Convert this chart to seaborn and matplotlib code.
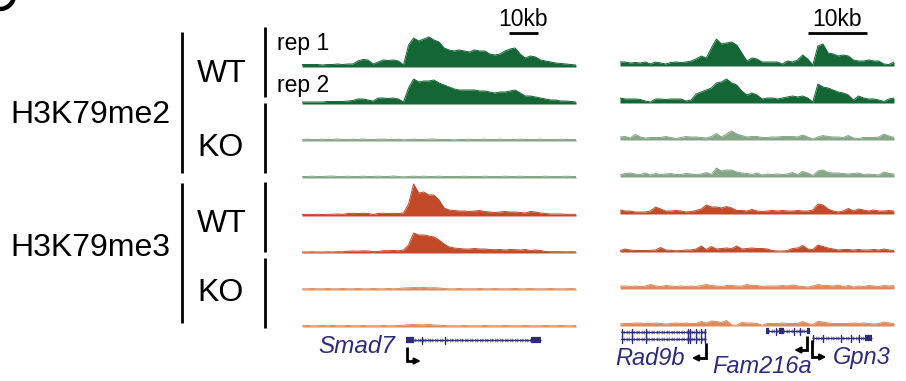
import numpy as np
import matplotlib
matplotlib.use("Agg")
import matplotlib.pyplot as plt
import seaborn as sns
from matplotlib.lines import Line2D
from matplotlib.patches import Arc

# ---------------- data ----------------
left_len_kb = 94.5
right_len_kb = 46.4

# H3K79me2 WT / KO, left locus (Smad7)
l_me2_wt1 = [2.5, 2.5, 2.5, 2.5, 2, 2.5, 2.5, 3, 2.5, 3,
             3, 6, 7.5, 7, 3, 5, 7, 6.5, 7, 6,
             2, 22, 29, 26, 28, 30, 27, 25, 19, 17,
             16, 17, 16, 15, 17, 16, 16, 13, 12, 13,
             16, 18, 19, 13, 9, 11, 10, 7, 6, 5,
             4, 3.5, 3, 2.5, 2]
l_me2_wt2 = [2, 2, 2, 2, 2, 2.5, 2.5, 2.5, 2.5, 3,
             3.5, 5, 5, 4, 3, 6, 6, 5.5, 6, 5,
             2, 16, 25, 22, 23, 23, 24, 21, 19, 17,
             15, 14, 14, 14, 14, 13, 13, 12, 11, 12,
             12, 13, 14, 11, 8, 8, 7, 6, 5, 4,
             4, 3, 3, 2.5, 2]
l_me2_ko1 = [1.5, 1.8, 1.5, 1.5, 1.8, 1.5, 1.5, 2.0, 1.5, 1.5,
             1.8, 1.5, 2.0, 1.5, 1.5, 1.8, 2.0, 1.5, 1.5, 1.8,
             1.2, 1.5, 1.8, 1.5, 1.5, 1.8, 2.0, 1.5, 1.5, 1.5,
             1.2, 1.5, 1.5, 1.8, 1.5, 1.5, 1.8, 1.5, 1.5, 1.8,
             1.5, 1.5, 1.5, 1.8, 1.5, 1.5, 1.5, 1.8, 1.5, 1.5,
             1.5, 1.8, 1.5, 1.5, 1.5]
l_me2_ko2 = [1.5, 1.5, 1.8, 1.5, 1.5, 1.8, 2.0, 1.5, 1.5, 1.8,
             1.5, 1.5, 1.8, 1.5, 1.5, 1.8, 1.5, 1.5, 2.0, 1.5,
             1.2, 1.5, 1.8, 1.5, 1.8, 1.5, 1.5, 1.8, 1.5, 1.5,
             1.5, 1.5, 1.8, 1.5, 1.5, 1.5, 1.8, 1.5, 1.5, 1.5,
             1.8, 1.5, 1.5, 1.8, 1.5, 1.5, 1.5, 1.5, 1.8, 1.5,
             1.5, 1.5, 1.8, 1.5, 1.5]
# H3K79me3 WT / KO, left locus
l_me3_wt1 = [1.5, 1.7, 1.5, 1.7, 1.5, 1.7, 1.7, 2, 1.7, 2.5,
             2.7, 2.5, 2.7, 2.5, 1.5, 2.5, 2.7, 2.5, 2.7, 2.5,
             3, 12, 32, 23, 24, 21, 21, 16, 8, 6,
             5.5, 5, 5, 4.5, 5, 5.5, 4.5, 4, 3.5, 4,
             4.5, 4, 4, 3.5, 3, 4.5, 4, 3, 2.5, 2,
             2, 2, 1.7, 1.7, 1.7]
l_me3_wt2 = [1, 1, 1.2, 1, 1, 1.2, 1, 1.3, 1.2, 1.8,
             2, 1.8, 2.2, 2, 1.3, 1.5, 2.3, 2.3, 2.5, 2.2,
             3, 8, 20, 18, 18, 17, 16, 13, 9, 6,
             5, 4.5, 4, 4, 4.5, 4, 4, 3.5, 3.3, 3.5,
             3, 3.5, 3.3, 3, 3.5, 2.5, 3, 2.5, 1.5, 1.3,
             1.3, 1.3, 1.2, 1.3, 1.2]
l_me3_ko1 = [1.2, 1.2, 1.5, 1.2, 1.2, 1.5, 1.2, 1.2, 1.5, 1.2,
             1.2, 1.5, 1.2, 1.2, 1.5, 1.2, 1.2, 1.5, 1.2, 1.5,
             2.0, 2.2, 2.5, 2.3, 2.5, 2.2, 2.3, 2.0, 1.5, 1.2,
             1.2, 1.5, 1.2, 1.2, 1.2, 1.5, 1.2, 1.2, 1.5, 1.2,
             1.2, 1.2, 1.5, 1.2, 1.2, 1.5, 1.2, 1.2, 1.2, 1.5,
             1.2, 1.2, 1.2, 1.5, 1.2]
l_me3_ko2 = [1.2, 1.5, 1.2, 1.2, 1.5, 1.2, 1.5, 1.2, 1.2, 1.5,
             1.2, 1.2, 1.5, 1.2, 1.2, 1.2, 1.5, 1.2, 1.2, 1.5,
             1.8, 2.3, 2.5, 2.3, 2.2, 2.5, 2.0, 1.8, 1.5, 1.2,
             1.2, 1.2, 1.5, 1.2, 1.2, 1.2, 1.5, 1.2, 1.2, 1.2,
             1.5, 1.2, 1.2, 1.2, 1.5, 1.2, 1.2, 1.2, 1.5, 1.2,
             1.2, 1.5, 1.2, 1.2, 1.5]

# right locus (Rad9b / Fam216a / Gpn3)
r_me2_wt1 = [4, 4, 3, 3.5, 3, 4, 2, 4, 3, 2,
             3.5, 4, 3.5, 4, 5, 7, 10, 8, 18, 27,
             22, 23, 24, 21, 13, 5, 8, 7, 4, 4,
             4, 4, 2, 5, 4, 6, 11, 7, 1, 20,
             22, 13, 12, 10, 11, 10, 6, 5, 5, 6,
             5, 5, 2, 1.5, 4]
r_me2_wt2 = [5, 4, 4, 4, 3.5, 2, 1, 4, 4, 3.5,
             4, 4, 4, 2, 3, 9, 11, 13, 15, 20,
             21, 24, 20, 18, 12, 8, 10, 8, 4, 5,
             5, 4, 5, 6, 7, 6, 7, 5, 1, 19,
             16, 15, 13, 11, 10, 8, 3, 7, 5, 4,
             4, 3, 1.5, 4, 5]
r_me2_ko1 = [3, 3.5, 2, 5.5, 3, 2, 2.5, 2.5, 2.5, 3.5,
             2.5, 1.5, 2.5, 3.5, 3, 3, 2.5, 2, 3.5, 6.5,
             3, 6, 9, 6, 4.5, 3, 3.5, 3.5, 2.5, 2.5,
             3, 3, 3.5, 3.5, 3.5, 3, 5, 3, 1, 3,
             4.5, 3.5, 3, 3, 2.5, 4.5, 2, 1.5, 2.5, 2.5,
             2.5, 3, 6, 4, 2.5]
r_me2_ko2 = [2, 3.5, 4, 3, 2.5, 4, 2, 3.5, 2.5, 3,
             3.5, 2.5, 2.5, 3.5, 3, 2.5, 3, 4.5, 2.5, 9,
             6, 7, 7, 5, 4, 3.5, 2.5, 4, 2, 3,
             2.5, 3, 2.5, 3, 4.5, 2.5, 5.5, 4, 1.5, 6,
             7, 4.5, 4, 4, 3.5, 3, 3.5, 4, 2.5, 3,
             2.5, 2, 5, 3.5, 3]
r_me3_wt1 = [4, 3, 3, 2, 2, 2, 3, 7, 5, 3,
             3, 3.5, 3, 2, 2.5, 3.5, 5, 9, 7, 7,
             6, 7.5, 6, 3.5, 3.5, 3, 4.5, 3, 2.5, 3,
             3.5, 3, 3.5, 3, 3, 3.5, 3, 3, 4, 10,
             9, 5, 3, 2, 3, 5.5, 3, 5, 4, 3,
             4, 3, 3, 3.5, 3]
r_me3_wt2 = [1.5, 3, 2, 1.5, 1.5, 1.5, 1.7, 2, 4.5, 2,
             1.7, 1.2, 1.5, 2, 2, 3, 6, 2.5, 5.5, 3,
             3.5, 4, 3.5, 6, 3, 3.5, 4, 3.5, 3.5, 3,
             1.5, 1, 1, 1.5, 3.5, 4, 6.5, 3, 2.5, 7,
             5.5, 4, 3, 2, 2.5, 2.5, 2, 2.5, 2, 2,
             2.5, 2, 3, 2, 1.5]
r_me3_ko1 = [3, 3, 2.5, 3, 2.5, 3, 4.5, 3, 2.5, 3.5,
             3, 2.5, 3, 2.5, 3, 2.5, 3.5, 4.5, 3.5, 3,
             2.5, 3.5, 3.5, 3, 3, 4.5, 3.5, 3.5, 2.5, 3,
             3, 3, 3.5, 3, 4, 3, 2.5, 2, 3, 4.5,
             3.5, 3.5, 3, 4, 2.5, 3.5, 2, 3, 2.5, 3.5,
             3, 2.5, 3.5, 3, 3.5]
r_me3_ko2 = [2, 2.5, 2.5, 3, 3, 2.5, 2.5, 3, 2.5, 2,
             2.5, 3, 2.5, 3, 2.5, 2.5, 4.5, 3, 5, 4.5,
             3.5, 5.5, 1, 0.8, 3.5, 3, 3, 2.5, 0.8, 2.5,
             2.5, 2.5, 3, 2.5, 2.5, 2.5, 4.5, 2.5, 1.5, 4.5,
             4, 3, 2.5, 2.5, 2.5, 2.5, 3, 2.5, 3, 2.5,
             2, 2.5, 4, 3, 2.5]

# genes: exon intervals in kb
smad7_exons = [(35.9, 38.6), (41.3, 41.6), (49.2, 49.5), (79.0, 82.4)]
rad9b_exons = [(0.17, 0.5), (2.0, 2.2), (4.3, 4.5), (11.3, 11.6), (11.8, 12.0),
               (12.8, 13.0), (13.6, 13.8), (14.3, 14.56)]
fam216a_exons = [(24.7, 25.2), (26.4, 26.6), (27.0, 27.8), (29.3, 29.5),
                 (30.3, 30.5), (31.6, 32.2)]
gpn3_exons = [(32.5, 32.8), (34.2, 34.4), (37.3, 37.5), (39.1, 39.3),
              (40.3, 40.5), (41.5, 42.7)]

track_labels = ["H3K79me2", "H3K79me3"]
geno_labels = ["WT", "KO", "WT", "KO"]
scale_kb = 10

# ---------------- style ----------------
sns.set_theme(style="white")
plt.rcParams["font.family"] = ["Liberation Sans", "DejaVu Sans"]
plt.rcParams["text.color"] = "black"

C_ME2_WT = "#146634"
C_ME2_KO = "#85a687"
C_ME3_WT = "#c24a28"
C_ME3_KO = "#df8a5a"
C_GENE = "#2c2c7c"

W, H = 906, 381
fig = plt.figure(figsize=(W / 100, H / 100), dpi=100)
fig.patch.set_facecolor("white")


def axes_px(x0, y0, x1, y1):
    ax = fig.add_axes([x0 / W, 1 - y1 / H, (x1 - x0) / W, (y1 - y0) / H])
    ax.set_facecolor("none")
    ax.axis("off")
    return ax


def ftext(x, y, s, **kw):
    fig.text(x / W, 1 - y / H, s, color="black", **kw)


def fline(x0, y0, x1, y1, lw=2.0):
    fig.add_artist(Line2D([x0 / W, x1 / W], [1 - y0 / H, 1 - y1 / H],
                          color="black", lw=lw, transform=fig.transFigure,
                          solid_capstyle="butt"))


TRACK_H = 36
left_x = (302, 576)
right_x = (620, 894)
left_base = [67, 104, 141, 178, 216, 253, 290, 327]
right_base = [66, 103, 140, 177, 214, 252, 289, 326]

left_tracks = [(l_me2_wt1, C_ME2_WT), (l_me2_wt2, C_ME2_WT),
               (l_me2_ko1, C_ME2_KO), (l_me2_ko2, C_ME2_KO),
               (l_me3_wt1, C_ME3_WT), (l_me3_wt2, C_ME3_WT),
               (l_me3_ko1, C_ME3_KO), (l_me3_ko2, C_ME3_KO)]
right_tracks = [(r_me2_wt1, C_ME2_WT), (r_me2_wt2, C_ME2_WT),
                (r_me2_ko1, C_ME2_KO), (r_me2_ko2, C_ME2_KO),
                (r_me3_wt1, C_ME3_WT), (r_me3_wt2, C_ME3_WT),
                (r_me3_ko1, C_ME3_KO), (r_me3_ko2, C_ME3_KO)]


def draw_panel(tracks, xr, bases, length):
    axes = []
    for (vals, col), b in zip(tracks, bases):
        ax = axes_px(xr[0], b - TRACK_H, xr[1], b + 0.5)
        pos = np.linspace(0, length, len(vals))
        ax.fill_between(pos, 0, vals, color=col, lw=0)
        sns.lineplot(x=pos, y=vals, ax=ax, color=col, lw=0.7)
        ax.set_xlim(0, length)
        ax.set_ylim(-0.5, TRACK_H)
        ax.axis("off")
        axes.append(ax)
    return axes


lax = draw_panel(left_tracks, left_x, left_base, left_len_kb)
rax = draw_panel(right_tracks, right_x, right_base, right_len_kb)

# scale bars
for ax, start, base in [(lax[0], 71.4, left_base[0]), (rax[0], 31.8, right_base[0])]:
    ax.plot([start, start + scale_kb], [base - 33, base - 33], color="black",
            lw=2, clip_on=False, solid_capstyle="butt")
    ax.text(start + scale_kb / 2, base - 26, f"{scale_kb}kb", ha="center",
            va="baseline", fontsize=16.5, color="black", clip_on=False)

# gene axes
gl = axes_px(left_x[0], 326, left_x[1], 381)
gl.set_xlim(0, left_len_kb)
gl.set_ylim(381, 326)
gr = axes_px(right_x[0], 326, right_x[1], 381)
gr.set_xlim(0, right_len_kb)
gr.set_ylim(381, 326)


def draw_gene(ax, exons, row, strand, length):
    s, e = exons[0][0], exons[-1][1]
    ax.plot([s, e], [row, row], color=C_GENE, lw=0.8, solid_capstyle="butt")
    step = length / 110
    chev = np.arange(s + step, e - step / 2, step)
    ax.plot(chev, [row] * len(chev), ls="none",
            marker="4" if strand > 0 else "3", ms=3, mew=0.6, color=C_GENE)
    for (a, b) in exons:
        thick = (b - a) > 0.4
        if thick:
            ax.plot([a, b], [row, row], color=C_GENE, lw=4.5,
                    solid_capstyle="butt")
        else:
            ax.plot([(a + b) / 2] * 2, [row - 3.5, row + 3.5], color=C_GENE,
                    lw=1.0)


def draw_tss(ax, x, y0, y1, dx):
    ax.plot([x, x, x + dx * 0.55], [y0, y1, y1], color="black", lw=2,
            solid_joinstyle="miter", solid_capstyle="butt")
    ax.annotate("", xy=(x + dx, y1), xytext=(x + dx * 0.4, y1),
                arrowprops=dict(arrowstyle="-|>", color="black", lw=1.5,
                                mutation_scale=9, shrinkA=0, shrinkB=0))


draw_gene(gl, smad7_exons, 340, +1, left_len_kb)
draw_tss(gl, 36.2, 347, 361, 4.8)
gl.text(32.1, 353, "Smad7", ha="right", va="baseline", fontsize=17.5,
        style="italic", color=C_GENE)

draw_gene(gr, rad9b_exons, 332, -1, right_len_kb)
draw_gene(gr, rad9b_exons, 339, -1, right_len_kb)
draw_gene(gr, fam216a_exons, 331, -1, right_len_kb)
draw_gene(gr, gpn3_exons, 338, +1, right_len_kb)
draw_tss(gr, 14.56, 343, 358, -2.4)
draw_tss(gr, 31.7, 336, 350, -2.2)
draw_tss(gr, 32.55, 340, 357, 2.4)
gr.text(11.0, 365, "Rad9b", ha="right", va="baseline", fontsize=17,
        style="italic", color=C_GENE)
gr.text(24.0, 373, "Fam216a", ha="center", va="baseline", fontsize=17,
        style="italic", color=C_GENE)
gr.text(36.0, 364, "Gpn3", ha="left", va="baseline", fontsize=17,
        style="italic", color=C_GENE)

# left-hand labels and brackets
ftext(10, 123, track_labels[0], ha="left", va="baseline", fontsize=23)
ftext(10, 256, track_labels[1], ha="left", va="baseline", fontsize=23)
for lab, yb in zip(geno_labels, [82, 156, 232, 301]):
    ftext(197, yb, lab, ha="left", va="baseline", fontsize=23)
ftext(277, 50, "rep 1", ha="left", va="baseline", fontsize=16.5)
ftext(277, 92, "rep 2", ha="left", va="baseline", fontsize=16.5)

fline(182, 32, 182, 173)
fline(182, 183, 182, 323)
for y0, y1 in [(27, 97), (103, 173), (182, 252), (258, 328)]:
    fline(265, y0, 265, y1)

# clipped stroke of a panel letter in the top-left corner
r = 14
fig.add_artist(Arc((0 / W, 1 + 5 / H), 2 * r / W, 2 * r / H, theta1=-95,
                   theta2=-5, transform=fig.transFigure, color="black",
                   lw=3.2))

fig.savefig("out.png", dpi=100, facecolor="white")
